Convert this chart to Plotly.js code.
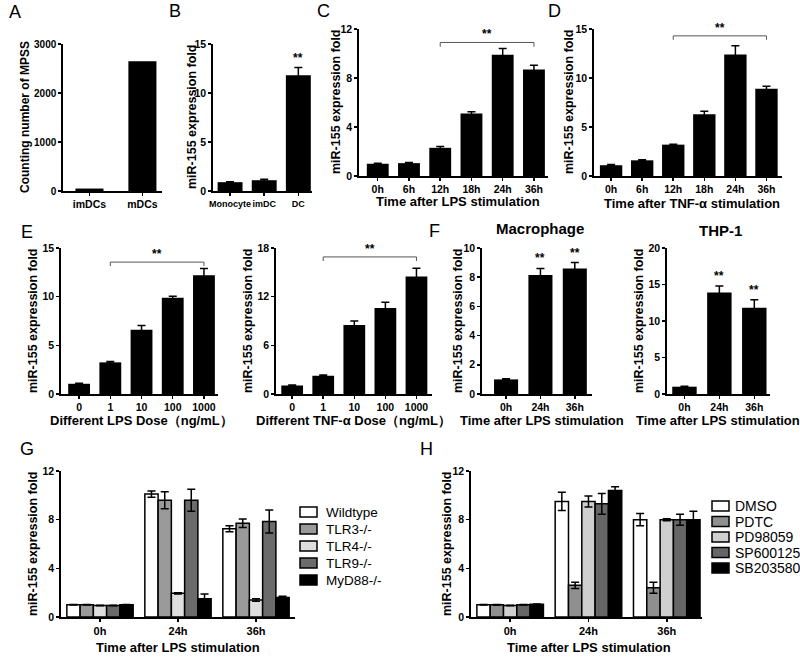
<!DOCTYPE html>
<html><head><meta charset="utf-8">
<script src="https://cdn.plot.ly/plotly-3.0.1.min.js"></script>
<style>html,body{margin:0;padding:0;background:#fff}#chart{width:800px;height:660px}</style>
</head><body><div id="chart"></div>
<script>
// ---------------- DATA ----------------
const aCats = ['imDCs', 'mDCs'];
const aVals = [50, 2650];

const bCats = ['Monocyte', 'imDC', 'DC'];
const bVals = [0.9, 1.1, 11.8];
const bErr  = [0.05, 0.1, 0.8];
const bStars = ['', '', '**'];

const cCats = ['0h', '6h', '12h', '18h', '24h', '36h'];
const cVals = [1.0, 1.05, 2.3, 5.1, 9.9, 8.7];
const cErr  = [0.05, 0.05, 0.1, 0.15, 0.5, 0.35];

const dCats = ['0h', '6h', '12h', '18h', '24h', '36h'];
const dVals = [1.1, 1.6, 3.2, 6.3, 12.4, 8.9];
const dErr  = [0.08, 0.05, 0.05, 0.3, 0.9, 0.25];

const eLpsCats = ['0', '1', '10', '100', '1000'];
const eLpsVals = [1.05, 3.25, 6.6, 9.9, 12.2];
const eLpsErr  = [0.05, 0.1, 0.45, 0.15, 0.7];

const eTnfCats = ['0', '1', '10', '100', '1000'];
const eTnfVals = [1.05, 2.25, 8.5, 10.6, 14.5];
const eTnfErr  = [0.05, 0.1, 0.5, 0.7, 1.0];

const macCats = ['0h', '24h', '36h'];
const macVals = [1.0, 8.15, 8.6];
const macErr  = [0.05, 0.45, 0.4];
const macStars = ['', '**', '**'];

const thpCats = ['0h', '24h', '36h'];
const thpVals = [1.0, 13.9, 11.8];
const thpErr  = [0.05, 0.9, 1.1];
const thpStars = ['', '**', '**'];

const gCats = ['0h', '24h', '36h'];
const gNames = ['Wildtype', 'TLR3-/-', 'TLR4-/-', 'TLR9-/-', 'MyD88-/-'];
const gWildtype = [1.0, 10.1, 7.25];
const gTLR3     = [1.0, 9.6, 7.7];
const gTLR4     = [0.95, 1.95, 1.4];
const gTLR9     = [0.95, 9.6, 7.85];
const gMyD88    = [1.0, 1.5, 1.6];
const gWildtypeErr = [0.02, 0.25, 0.25];
const gTLR3Err     = [0.02, 0.7, 0.35];
const gTLR4Err     = [0.02, 0.05, 0.1];
const gTLR9Err     = [0.02, 0.9, 0.95];
const gMyD88Err    = [0.02, 0.4, 0.1];

const hCats = ['0h', '24h', '36h'];
const hNames = ['DMSO', 'PDTC', 'PD98059', 'SP600125', 'SB203580'];
const hDMSO     = [1.0, 9.5, 8.0];
const hPDTC     = [1.0, 2.6, 2.4];
const hPD98059  = [0.95, 9.5, 8.0];
const hSP600125 = [1.0, 9.3, 8.0];
const hSB203580 = [1.05, 10.4, 8.0];
const hDMSOErr     = [0.02, 0.75, 0.5];
const hPDTCErr     = [0.03, 0.25, 0.45];
const hPD98059Err  = [0.02, 0.45, 0.08];
const hSP600125Err = [0.02, 0.85, 0.45];
const hSB203580Err = [0.02, 0.3, 0.7];

// ---------------- LAYOUT HELPERS ----------------
const W = 800, H = 660;
const FONT = '"Liberation Sans", Arial, sans-serif';
const px = x => x / W;
const py = y => 1 - y / H;
const xdom = (a, b) => [a / W, b / W];
const ydom = (a, b) => [1 - b / H, 1 - a / H];
const idx = arr => arr.map((_, i) => i);

const layout = {
  width: W, height: H,
  margin: {l: 0, r: 0, t: 0, b: 0},
  paper_bgcolor: '#ffffff', plot_bgcolor: 'rgba(0,0,0,0)',
  font: {family: FONT, color: '#000'},
  barmode: 'group', bargap: 0.15, bargroupgap: 0,
  showlegend: false,
  shapes: [], annotations: []
};
const traces = [];

function addAxes(n, cats, xd, yd, xr, yr, dtick, fs, yfs) {
  const sx = n === 1 ? '' : String(n);
  layout['xaxis' + sx] = {
    domain: xdom(xd[0], xd[1]), range: xr, anchor: 'y' + sx,
    tickmode: 'array', tickvals: idx(cats), ticktext: cats, tickangle: 0,
    showline: true, linewidth: 1.7, linecolor: '#000',
    ticks: 'outside', ticklen: 3, tickwidth: 1.5, tickcolor: '#000',
    showgrid: false, zeroline: false, fixedrange: true,
    tickfont: {family: FONT, size: fs, color: '#000', weight: 'bold'}
  };
  layout['yaxis' + sx] = {
    domain: ydom(yd[0], yd[1]), range: yr, anchor: 'x' + sx,
    tickmode: 'linear', tick0: 0, dtick: dtick,
    showline: true, linewidth: 1.7, linecolor: '#000',
    ticks: 'outside', ticklen: 3, tickwidth: 1.5, tickcolor: '#000',
    showgrid: false, zeroline: false, fixedrange: true,
    tickfont: {family: FONT, size: yfs || fs, color: '#000', weight: 'bold'}
  };
  return {xa: 'x' + sx, ya: 'y' + sx};
}

function blackBars(ax, cats, vals, err, width) {
  const t = {
    type: 'bar', x: idx(cats), y: vals, width: width,
    xaxis: ax.xa, yaxis: ax.ya, showlegend: false, hoverinfo: 'skip',
    marker: {color: '#000', line: {width: 0}}
  };
  if (err) t.error_y = {type: 'data', array: err, visible: true, color: '#000', thickness: 1.5, width: 4};
  traces.push(t);
}

function stars(ax, marks, vals, err) {
  marks.forEach((m, i) => {
    if (!m) return;
    layout.annotations.push({xref: ax.xa, yref: ax.ya, x: i, y: vals[i] + (err ? err[i] : 0),
      text: m, showarrow: false, yanchor: 'bottom', yshift: 1,
      font: {family: FONT, size: 12, color: '#000', weight: 'bold'}});
  });
}

function bracket(ax, i0, i1, yv, drop) {
  layout.shapes.push({type: 'path', xref: ax.xa, yref: ax.ya,
    path: `M${i0},${yv - drop} L${i0},${yv} L${i1},${yv} L${i1},${yv - drop}`,
    line: {color: '#555', width: 1}});
  layout.annotations.push({xref: ax.xa, yref: ax.ya, x: (i0 + i1) / 2, y: yv,
    text: '**', showarrow: false, yanchor: 'bottom', yshift: -1,
    font: {family: FONT, size: 12, color: '#000', weight: 'bold'}});
}

function text(t, x, y, size, bold, angle) {
  layout.annotations.push({xref: 'paper', yref: 'paper', x: px(x), y: py(y),
    text: t, showarrow: false, xanchor: 'center', yanchor: 'middle', textangle: angle || 0,
    font: {family: FONT, size: size, color: '#000', weight: bold ? 'bold' : 'normal'}});
}

function legendBlock(names, colors, x0, y0, step, gap, fs) {
  names.forEach((n, k) => {
    const yc = y0 + k * step;
    layout.shapes.push({type: 'rect', xref: 'paper', yref: 'paper',
      x0: px(x0), x1: px(x0 + 17), y0: py(yc + 5), y1: py(yc - 5),
      fillcolor: colors[k], line: {color: '#000', width: 1.5}});
    layout.annotations.push({xref: 'paper', yref: 'paper', x: px(x0 + 17 + gap), y: py(yc),
      text: n, showarrow: false, xanchor: 'left', yanchor: 'middle',
      font: {family: FONT, size: fs, color: '#000'}});
  });
}

// ---------------- PANELS ----------------
// A
const axA = addAxes(1, aCats, [63, 162], [44, 191], [-0.5, 1.37], [0, 3000], 1000, 10.5, 10);
blackBars(axA, aCats, aVals, null, 0.53);
// B
const axB = addAxes(2, bCats, [213, 312], [44, 191], [-0.5, 2.4], [0, 15], 5, 9, 10.5);
blackBars(axB, bCats, bVals, bErr, 0.73);
stars(axB, bStars, bVals, bErr);
// C
const axC = addAxes(3, cCats, [359, 548], [29, 176], [-0.6, 5.45], [0, 12], 4, 10.5);
blackBars(axC, cCats, cVals, cErr, 0.7);
bracket(axC, 2, 5, 10.9, 0.35);
// D
const axD = addAxes(4, dCats, [594, 782], [29, 176], [-0.55, 5.5], [0, 15], 5, 10.5);
blackBars(axD, dCats, dVals, dErr, 0.72);
bracket(axD, 2, 5, 14.3, 0.4);
// E LPS
const axE1 = addAxes(5, eLpsCats, [61, 218], [248, 394], [-0.58, 4.45], [0, 15], 5, 10.5);
blackBars(axE1, eLpsCats, eLpsVals, eLpsErr, 0.7);
bracket(axE1, 1, 4, 13.55, 0.4);
// E TNF
const axE2 = addAxes(6, eTnfCats, [276, 432], [248, 394], [-0.52, 4.5], [0, 18], 6, 10.5);
blackBars(axE2, eTnfCats, eTnfVals, eTnfErr, 0.7);
bracket(axE2, 1, 4, 16.9, 0.5);
// F Macrophage
const axF1 = addAxes(7, macCats, [482, 592], [248, 394], [-0.7, 2.5], [0, 10], 2, 10.5);
blackBars(axF1, macCats, macVals, macErr, 0.7);
stars(axF1, macStars, macVals, macErr);
// F THP-1
const axF2 = addAxes(8, thpCats, [667, 770], [248, 394], [-0.5, 2.45], [0, 20], 5, 10.5);
blackBars(axF2, thpCats, thpVals, thpErr, 0.7);
stars(axF2, thpStars, thpVals, thpErr);
// G
const axG = addAxes(9, gCats, [61, 295], [471, 617], [-0.5, 2.5], [0, 12], 4, 11, 10.5);
const gSeries = [gWildtype, gTLR3, gTLR4, gTLR9, gMyD88];
const gErrs = [gWildtypeErr, gTLR3Err, gTLR4Err, gTLR9Err, gMyD88Err];
const gColors = ['#ffffff', '#9a9a9a', '#dedede', '#6b6b6b', '#000000'];
gSeries.forEach((s, k) => traces.push({
  type: 'bar', name: gNames[k], x: idx(gCats), y: s, xaxis: axG.xa, yaxis: axG.ya,
  showlegend: false, hoverinfo: 'skip',
  marker: {color: gColors[k], line: {color: '#000', width: 1.5}},
  error_y: {type: 'data', array: gErrs[k], visible: true, color: '#000', thickness: 1.5, width: 4}
}));
legendBlock(gNames, gColors, 300, 512, 17, 7, 13.5);
// H
const axH = addAxes(10, hCats, [471, 702], [471, 617], [-0.5, 2.45], [0, 12], 4, 11, 10.5);
const hSeries = [hDMSO, hPDTC, hPD98059, hSP600125, hSB203580];
const hErrs = [hDMSOErr, hPDTCErr, hPD98059Err, hSP600125Err, hSB203580Err];
const hColors = ['#ffffff', '#8f8f8f', '#cfcfcf', '#666666', '#000000'];
hSeries.forEach((s, k) => traces.push({
  type: 'bar', name: hNames[k], x: idx(hCats), y: s, xaxis: axH.xa, yaxis: axH.ya,
  showlegend: false, hoverinfo: 'skip',
  marker: {color: hColors[k], line: {color: '#000', width: 1.5}},
  error_y: {type: 'data', array: hErrs[k], visible: true, color: '#000', thickness: 1.5, width: 4}
}));
legendBlock(hNames, hColors, 712, 506, 15.5, 4, 14);

// ---------------- TEXT ----------------
// panel letters
[['A', 15, 12], ['B', 175, 11], ['C', 323, 11], ['D', 554, 11],
 ['E', 27, 232], ['F', 434, 231], ['G', 27, 449], ['H', 427, 449]]
  .forEach(l => text(l[0], l[1], l[2], 18, false));
// y titles
const yt = 'miR-155 expression fold';
text('Counting number of MPSS', 25, 117, 12, true, -90);
text(yt, 192, 117, 12.5, true, -90);
text(yt, 336, 102, 12.5, true, -90);
text(yt, 569, 102, 12.5, true, -90);
text(yt, 33, 321, 12.5, true, -90);
text(yt, 248, 321, 12.5, true, -90);
text(yt, 458, 321, 12.5, true, -90);
text(yt, 639, 321, 12.5, true, -90);
text(yt, 33, 544, 12.5, true, -90);
text(yt, 447, 544, 12.5, true, -90);
// x titles
text('Time after LPS stimulation', 458, 201, 13, true);
text('Time after TNF-α stimulation', 692, 203, 13, true);
text('Different LPS Dose（ng/mL）', 141, 420, 13, true);
text('Different TNF-α Dose（ng/mL）', 353, 420, 13, true);
text('Time after LPS stimulation', 542, 420, 13, true);
text('Time after LPS stimulation', 718, 420, 13, true);
text('Time after LPS stimulation', 178, 647, 13, true);
text('Time after LPS stimulation', 589, 647, 13, true);
// subplot titles
text('Macrophage', 540, 229, 15, true);
text('THP-1', 720, 231, 15, true);

Plotly.newPlot('chart', traces, layout, {staticPlot: true, displayModeBar: false});
</script>
</body></html>
